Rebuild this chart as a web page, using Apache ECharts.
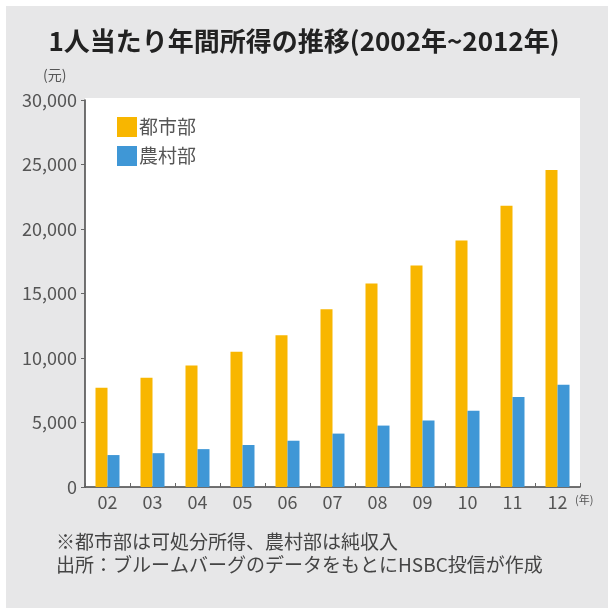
<!DOCTYPE html>
<html>
<head>
<meta charset="utf-8">
<script src="https://cdn.jsdelivr.net/npm/echarts@6/dist/echarts.min.js"></script>
<style>
html,body{margin:0;padding:0;background:#fff;}
#c{width:608px;height:608px;}
</style>
</head>
<body>
<div id="c"></div>
<script>
var years = ['02','03','04','05','06','07','08','09','10','11','12'];
var urban = [7703, 8472, 9422, 10493, 11759, 13786, 15781, 17175, 19109, 21810, 24565];
var rural = [2476, 2622, 2936, 3255, 3587, 4140, 4761, 5153, 5919, 6977, 7917];
var seriesNames = ['都市部', '農村部'];
var titleText = '1人当たり年間所得の推移(2002年~2012年)';
var notes = ['※都市部は可処分所得、農村部は純収入', '出所：ブルームバーグのデータをもとにHSBC投信が作成'];

var FONT = '"Noto Sans CJK JP", "Noto Sans", sans-serif';
var chart = echarts.init(document.getElementById('c'), null, {renderer: 'canvas'});
chart.setOption({
  animation: false,
  backgroundColor: '#ffffff',
  textStyle: {fontFamily: FONT},
  graphic: [
    {type: 'rect', z: -10, shape: {x: 6, y: 6, width: 602, height: 602}, style: {fill: '#e7e7e8'}},
    {type: 'rect', z: -9, shape: {x: 85, y: 98, width: 495, height: 389}, style: {fill: '#ffffff'}},
    {type: 'text', left: 43, top: 68, style: {text: '(元)', fontSize: 14, fill: '#555', fontFamily: FONT}},
    {type: 'text', left: 575, top: 494, style: {text: '(年)', fontSize: 11, fill: '#555', fontFamily: FONT}},
    {type: 'text', left: 56, top: 532, style: {text: notes[0], fontSize: 19, fill: '#444', fontFamily: FONT}},
    {type: 'text', left: 56, top: 555, style: {text: notes[1], fontSize: 19, fill: '#444', fontFamily: FONT}}
  ],
  title: {
    text: titleText,
    left: 'center',
    top: 23,
    textStyle: {fontSize: 26, fontWeight: 'bold', color: '#222', fontFamily: FONT}
  },
  legend: {
    orient: 'vertical',
    left: 112,
    top: 112,
    itemWidth: 20,
    itemHeight: 20,
    itemGap: 9,
    icon: 'rect',
    textStyle: {fontSize: 19, color: '#555', fontFamily: FONT, padding: [0, 0, 0, -3]},
    data: seriesNames
  },
  grid: {left: 85, right: 28, top: 100, bottom: 121, containLabel: false},
  xAxis: {
    type: 'category',
    data: years,
    axisLine: {lineStyle: {color: '#444', width: 1.5}},
    axisTick: {show: true, inside: true, length: 4, lineStyle: {color: '#666'}},
    axisLabel: {fontSize: 18, color: '#555', margin: 6, fontFamily: FONT},
    splitLine: {show: false}
  },
  yAxis: {
    type: 'value',
    min: 0,
    max: 30000,
    interval: 5000,
    axisLine: {show: true, lineStyle: {color: '#444', width: 1.5}},
    axisTick: {show: true, length: 4, lineStyle: {color: '#666'}},
    axisLabel: {
      fontSize: 18, color: '#555', margin: 8, fontFamily: FONT,
      formatter: function (v) { return v === 0 ? '0' : v.toLocaleString('en-US'); }
    },
    splitLine: {show: false}
  },
  series: [
    {name: seriesNames[0], type: 'bar', data: urban, barWidth: 12, barGap: '0%', itemStyle: {color: '#f8b600'}},
    {name: seriesNames[1], type: 'bar', data: rural, barWidth: 12, barGap: '0%', itemStyle: {color: '#3f97d6'}}
  ]
});
</script>
</body>
</html>
